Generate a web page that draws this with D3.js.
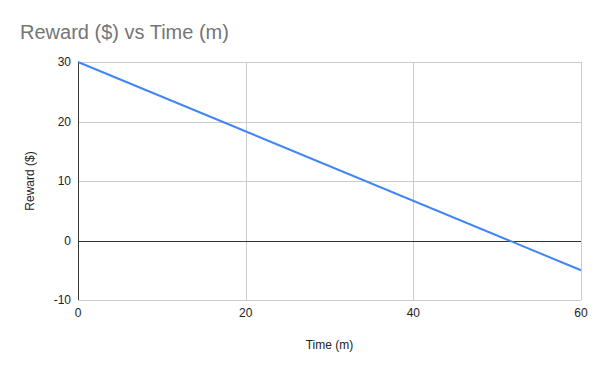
<!DOCTYPE html>
<html>
<head>
<meta charset="utf-8">
<script src="https://cdn.jsdelivr.net/npm/d3@7"></script>
<style>
  body { margin: 0; background: #fff; }
  text { font-family: Arial, "Liberation Sans", sans-serif; }
</style>
</head>
<body>
<div id="chart"></div>
<script>
// data
var times = [0, 60];
var rewards = [30, -5];
var xTicks = [0, 20, 40, 60];
var yTicks = [-10, 0, 10, 20, 30];

var svgWidth = 600;
var svgHeight = 371;

var margin = { top: 62, bottom: 71, left: 78, right: 19 };
var width = svgWidth - margin.left - margin.right;
var height = svgHeight - margin.top - margin.bottom;

var svg = d3.select("#chart")
  .append("svg")
  .attr("width", svgWidth)
  .attr("height", svgHeight);

var chartGroup = svg.append("g")
  .attr("transform", `translate(${margin.left}, ${margin.top})`);

var xScale = d3.scaleLinear().domain([0, 60]).range([0, width]);
var yScale = d3.scaleLinear().domain([-10, 30]).range([height, 0]);

// gridlines
chartGroup.selectAll(".vgrid")
  .data(xTicks.slice(1))
  .enter().append("line")
  .attr("x1", d => Math.round(xScale(d)) + 0.5)
  .attr("x2", d => Math.round(xScale(d)) + 0.5)
  .attr("y1", 0)
  .attr("y2", height)
  .attr("stroke", "#cccccc");

chartGroup.selectAll(".hgrid")
  .data(yTicks.filter(d => d !== 0))
  .enter().append("line")
  .attr("x1", 0)
  .attr("x2", width)
  .attr("y1", d => Math.round(yScale(d)) + 0.5)
  .attr("y2", d => Math.round(yScale(d)) + 0.5)
  .attr("stroke", "#cccccc");

// zero line and left axis
chartGroup.append("line")
  .attr("x1", 0).attr("x2", width)
  .attr("y1", Math.round(yScale(0)) + 0.5)
  .attr("y2", Math.round(yScale(0)) + 0.5)
  .attr("stroke", "#333333");

chartGroup.append("line")
  .attr("x1", 0.5).attr("x2", 0.5)
  .attr("y1", 0).attr("y2", height)
  .attr("stroke", "#333333");

// tick labels
chartGroup.selectAll(".ylab")
  .data(yTicks)
  .enter().append("text")
  .attr("x", -7)
  .attr("y", d => yScale(d) + 4)
  .attr("text-anchor", "end")
  .attr("font-size", "12px")
  .attr("fill", "#222")
  .text(d => d);

chartGroup.selectAll(".xlab")
  .data(xTicks)
  .enter().append("text")
  .attr("x", d => xScale(d))
  .attr("y", height + 17)
  .attr("text-anchor", "middle")
  .attr("font-size", "12px")
  .attr("fill", "#222")
  .text(d => d);

// line
var points = times.map((t, i) => ({ t: t, r: rewards[i] }));
var line = d3.line().x(d => xScale(d.t)).y(d => yScale(d.r));

chartGroup.append("path")
  .datum(points)
  .attr("d", line)
  .attr("fill", "none")
  .attr("stroke", "#4285f4")
  .attr("stroke-width", 2);

// titles
svg.append("text")
  .attr("x", 20)
  .attr("y", 39)
  .attr("font-size", "20px")
  .attr("fill", "#757575")
  .text("Reward ($) vs Time (m)");

svg.append("text")
  .attr("transform", `translate(34, ${margin.top + height / 2}) rotate(-90)`)
  .attr("text-anchor", "middle")
  .attr("font-size", "12px")
  .attr("fill", "#222")
  .text("Reward ($)");

svg.append("text")
  .attr("x", margin.left + width / 2)
  .attr("y", 349)
  .attr("text-anchor", "middle")
  .attr("font-size", "12px")
  .attr("fill", "#222")
  .text("Time (m)");
</script>
</body>
</html>
